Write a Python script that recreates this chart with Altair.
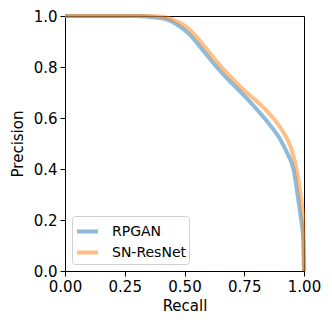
import altair as alt
import pandas as pd

series_names = ["RPGAN", "SN-ResNet"]

rpgan_recall = [0.0, 0.30, 0.357, 0.427, 0.483, 0.524, 0.566, 0.622, 0.678, 0.734, 0.790, 0.846, 0.902, 0.930, 0.958, 0.972, 0.986, 0.997, 1.0]
rpgan_precision = [1.0, 1.0, 0.996, 0.986, 0.957, 0.925, 0.879, 0.814, 0.755, 0.703, 0.647, 0.586, 0.514, 0.462, 0.391, 0.306, 0.215, 0.124, 0.0]

sn_recall = [0.0, 0.35, 0.40, 0.44, 0.497, 0.538, 0.580, 0.636, 0.692, 0.748, 0.804, 0.860, 0.916, 0.944, 0.972, 0.986, 0.997, 1.0]
sn_precision = [1.0, 1.0, 0.998, 0.99, 0.964, 0.931, 0.885, 0.820, 0.762, 0.710, 0.664, 0.612, 0.540, 0.488, 0.384, 0.293, 0.202, 0.0]

colors = ["#1f77b4", "#ff7f0e"]
ticks = [0, 0.25, 0.5, 0.75, 1.0]

rows = []
for i, (r, p) in enumerate(zip(rpgan_recall, rpgan_precision)):
    rows.append({"series": series_names[0], "recall": r, "precision": p, "i": i})
for i, (r, p) in enumerate(zip(sn_recall, sn_precision)):
    rows.append({"series": series_names[1], "recall": r, "precision": p, "i": i})
df = pd.DataFrame(rows)

font = "DejaVu Sans"

chart = alt.Chart(df).mark_line(strokeWidth=4, opacity=0.5, interpolate="monotone", strokeCap="butt").encode(
    x=alt.X("recall:Q", title="Recall",
            scale=alt.Scale(domain=[0, 1], nice=False),
            axis=alt.Axis(values=ticks, format=".2f", grid=False, labelFlush=False)),
    y=alt.Y("precision:Q", title="Precision",
            scale=alt.Scale(domain=[0, 1], nice=False),
            axis=alt.Axis(values=[0, 0.2, 0.4, 0.6, 0.8, 1.0], format=".1f", grid=False, labelFlush=False)),
    color=alt.Color("series:N", title=None,
                    scale=alt.Scale(domain=series_names, range=colors),
                    legend=alt.Legend(orient="bottom-left", offset=7, symbolType="stroke",
                                      symbolStrokeWidth=4, symbolOpacity=0.5, symbolSize=441,
                                      labelFontSize=14, labelFont=font, labelColor="black",
                                      strokeColor="#d0d0d0", cornerRadius=3, padding=3,
                                      fillColor="white", rowPadding=-4, labelOffset=12)),
    order="i:Q",
).properties(
    width=239, height=255,
    autosize=alt.AutoSizeParams(type="none"),
    padding={"left": 57, "top": 8, "right": 20, "bottom": 50},
).configure_view(
    stroke="black", strokeWidth=1
).configure_axis(
    domainColor="black", tickColor="black", tickSize=5,
    labelFont=font, labelFontSize=15, labelColor="black",
    titleFont=font, titleFontSize=15, titleColor="black", titleFontWeight="normal",
    labelPadding=3,
).configure_axisX(
    titlePadding=4
).configure_axisY(
    titlePadding=8
)

chart.save("out.html", embed_options={"renderer": "svg", "actions": False})
